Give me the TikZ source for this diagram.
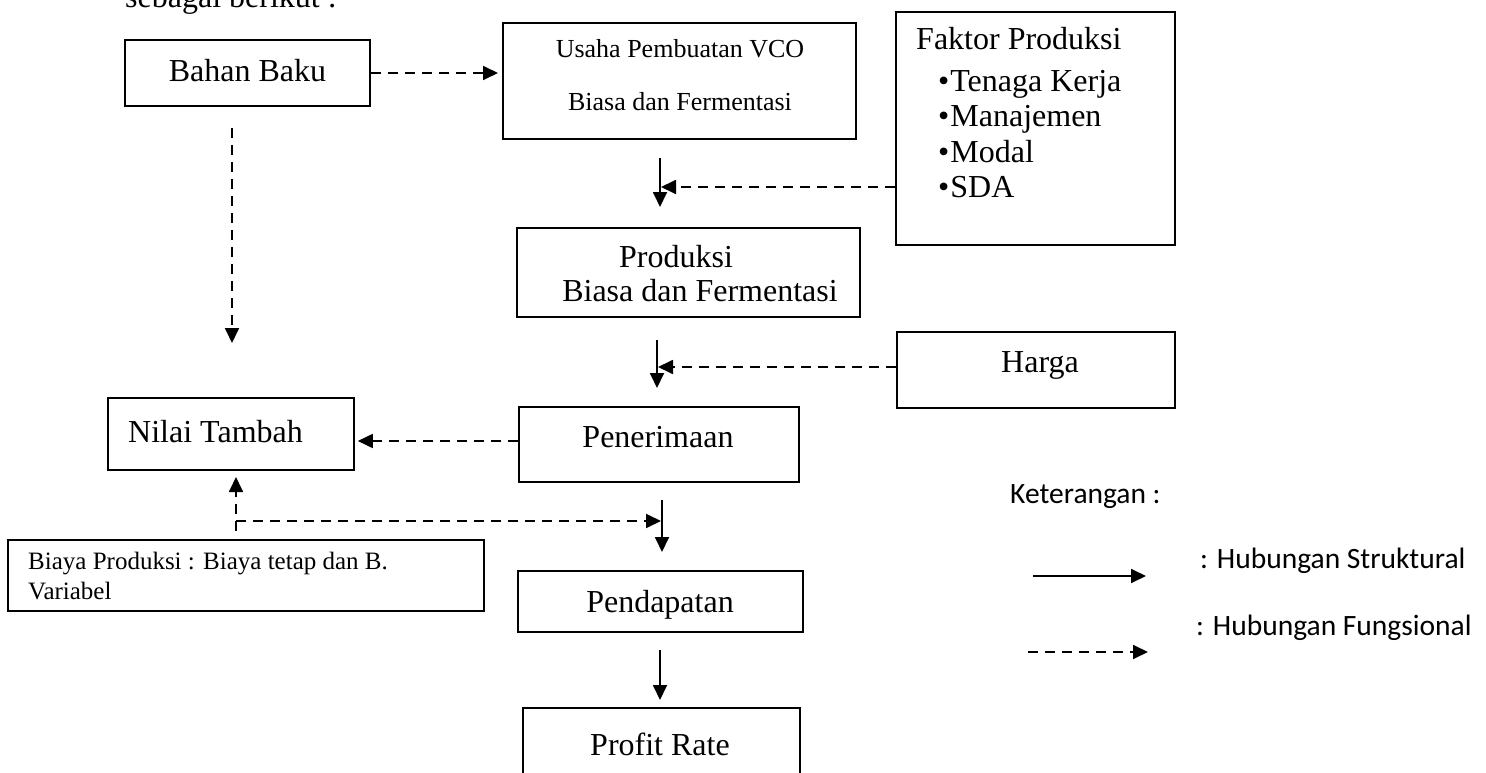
\documentclass[tikz,border=0pt]{standalone}
\usepackage{fontspec}
\setmainfont{Liberation Serif}
\newfontfamily\calfont{Carlito}
\usetikzlibrary{arrows.meta}
\newcommand{\mybul}{•\hspace{1pt}}
\begin{document}
\begin{tikzpicture}[x=1pt,y=-1pt,
  box/.style={draw, line width=1.6pt, inner sep=0pt},
  txt/.style={font=\fontsize{32}{36}\selectfont, inner sep=0pt, anchor=base},
  txtw/.style={font=\fontsize{32}{36}\selectfont, inner sep=0pt, anchor=base west},
  smalltxt/.style={font=\fontsize{26}{30}\selectfont, inner sep=0pt, anchor=base},
  smalltxtw/.style={font=\fontsize{25}{29}\selectfont, inner sep=0pt, anchor=base west},
  legtxt/.style={font=\calfont\fontsize{29.5}{33}\selectfont, inner sep=0pt, anchor=base west},
  sarrow/.style={line width=1.8pt, -{Triangle[length=15pt,width=14pt]}},
  darrow/.style={line width=1.8pt, dash pattern=on 10pt off 7pt, -{Triangle[length=15pt,width=14pt]}}
]
\useasboundingbox (0,0) rectangle (1486,773);

% header text (cut at top)
\node[txtw] (hdr) at (125,8) {sebagai berikut :};

% boxes
\node[box, minimum width=245pt, minimum height=66pt] (bahan) at (247.5,73) {};
\node[txt] (bahanT) at (247.5,82) {Bahan Baku};

\node[box, minimum width=353pt, minimum height=116pt] (usaha) at (679.5,81) {};
\node[smalltxt] (usahaT1) at (680,58) {Usaha Pembuatan VCO};
\node[smalltxt] (usahaT2) at (680,111) {Biasa dan Fermentasi};

\node[box, minimum width=279pt, minimum height=233pt] (faktor) at (1035.5,128.5) {};
\node[txtw] (faktorT) at (916,50) {Faktor Produksi};
\node[txtw] (f1) at (938,92) {\mybul Tenaga Kerja};
\node[txtw] (f2) at (938,127) {\mybul Manajemen};
\node[txtw] (f3) at (938,162) {\mybul Modal};
\node[txtw] (f4) at (938,197) {\mybul SDA};

\node[box, minimum width=343pt, minimum height=89pt] (produksi) at (688.5,272.5) {};
\node[txt] (prodT1) at (676,267) {Produksi};
\node[txt] (prodT2) at (700,301) {Biasa dan Fermentasi};

\node[box, minimum width=278pt, minimum height=76pt] (harga) at (1036,370) {};
\node[txt] (hargaT) at (1040,372) {Harga};

\node[box, minimum width=280pt, minimum height=75pt] (penerimaan) at (659,444.5) {};
\node[txt] (penT) at (658,447) {Penerimaan};

\node[box, minimum width=246pt, minimum height=72pt] (nilai) at (231,434) {};
\node[txtw] (nilaiT) at (128,442) {Nilai Tambah};

\node[box, minimum width=476pt, minimum height=71pt] (biaya) at (246,575.5) {};
\node[smalltxtw] (biayaT1) at (28,569) {Biaya Produksi : Biaya tetap dan B.};
\node[smalltxtw] (biayaT2) at (28,599) {Variabel};

\node[box, minimum width=285pt, minimum height=61pt] (pendapatan) at (660.5,601.5) {};
\node[txt] (pendT) at (660,612) {Pendapatan};

\node[box, minimum width=277pt, minimum height=90pt] (profit) at (661.5,753) {};
\node[txt] (profitT) at (660,755) {Profit Rate};

% connectors
\coordinate (bahanTip) at (498,73);
\draw[darrow] (bahan.east) -- (bahanTip);

\coordinate (vbStart) at (232,128);
\coordinate (vbEnd) at (232,343);
\draw[darrow] (vbStart) -- (vbEnd);

\coordinate (s1a) at (660,158);
\coordinate (s1b) at (660,207);
\coordinate (s1m) at (661,187);
\draw[sarrow] (s1a) -- (s1b);
\draw[darrow] (faktor.west |- s1m) -- (s1m);

\coordinate (s2a) at (657,340);
\coordinate (s2b) at (657,388);
\coordinate (s2m) at (658,367);
\draw[sarrow] (s2a) -- (s2b);
\draw[darrow] (harga.west |- s2m) -- (s2m);

\draw[darrow] (penerimaan.west |- 0,441) -- ([xshift=3pt]nilai.east |- 0,441);

\coordinate (bUp0) at (236,531);
\coordinate (bUp1) at (236,477);
\coordinate (bH0) at (236,521);
\coordinate (bH1) at (661,521);
\draw[darrow] (bUp0) -- (bUp1);
\draw[darrow] (bH0) -- (bH1);

\coordinate (s3a) at (662,500);
\coordinate (s3b) at (662,552);
\draw[sarrow] (s3a) -- (s3b);

\coordinate (s4a) at (660,650);
\coordinate (s4b) at (660,700);
\draw[sarrow] (s4a) -- (s4b);

% legend
\node[legtxt] (ket) at (1010,503) {Keterangan :};
\coordinate (l1a) at (1033,576);
\coordinate (l1b) at (1146,576);
\draw[sarrow] (l1a) -- (l1b);
\node[legtxt] (l1T) at (1200,568) {: Hubungan Struktural};
\coordinate (l2a) at (1028,652);
\coordinate (l2b) at (1148,652);
\draw[darrow] (l2a) -- (l2b);
\node[legtxt] (l2T) at (1196,635) {: Hubungan Fungsional};
\end{tikzpicture}
\end{document}
